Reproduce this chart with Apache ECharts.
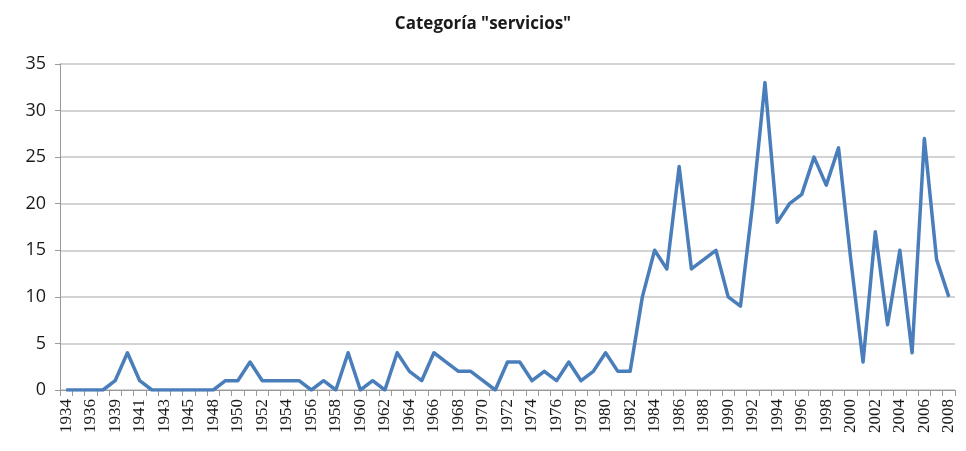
<!DOCTYPE html>
<html>
<head>
<meta charset="utf-8">
<script src="https://cdn.jsdelivr.net/npm/echarts@6/dist/echarts.min.js"></script>
<style>
  html, body { margin: 0; padding: 0; background: #fff; }
  #chart { width: 966px; height: 451px; }
</style>
</head>
<body>
<div id="chart"></div>
<script>
// Years with a recorded count (a few years have no entry)
const years = [
  '1934','1935','1936','1938','1939','1940','1941','1942','1943','1944','1945','1947',
  '1948','1949','1950','1951','1952','1953','1954','1955','1956','1957','1958','1959',
  '1960','1961','1962','1963','1964','1965','1966','1967','1968','1969','1970','1971',
  '1972','1973','1974','1975','1976','1977','1978','1979','1980','1981','1982','1983',
  '1984','1985','1986','1987','1988','1989','1990','1991','1992','1993','1994','1995',
  '1996','1997','1998','1999','2000','2001','2002','2003','2004','2005','2006','2007','2008'
];

// Count for the "servicios" category per year
const servicios = [
  0, 0, 0, 0, 1, 4, 1, 0, 0, 0, 0, 0,
  0, 1, 1, 3, 1, 1, 1, 1, 0, 1, 0, 4,
  0, 1, 0, 4, 2, 1, 4, 3, 2, 2, 1, 0,
  3, 3, 1, 2, 1, 3, 1, 2, 4, 2, 2, 10,
  15, 13, 24, 13, 14, 15, 10, 9, 20, 33, 18, 20,
  21, 25, 22, 26, 14, 3, 17, 7, 15, 4, 27, 14, 10
];

const yMin = 0, yMax = 35, yStep = 5;

const chart = echarts.init(document.getElementById('chart'), null, { renderer: 'canvas' });
chart.setOption({
  animation: false,
  backgroundColor: '#ffffff',
  title: {
    text: 'Categoría "servicios"',
    left: 'center',
    top: 11,
    textStyle: {
      fontFamily: 'Open Sans, Liberation Sans, sans-serif',
      fontWeight: 'bold',
      fontSize: 17,
      color: '#1a1a1a'
    }
  },
  grid: { left: 60, right: 11, top: 64, bottom: 61 },
  xAxis: {
    type: 'category',
    data: years,
    boundaryGap: true,
    axisLine: { lineStyle: { color: '#9a9a9a', width: 1 } },
    axisTick: { show: true, interval: 0, length: 6, lineStyle: { color: '#9a9a9a' } },
    axisLabel: {
      interval: 1,
      rotate: 90,
      margin: 9,
      fontFamily: 'Liberation Serif, serif',
      fontSize: 17,
      color: '#1a1a1a'
    },
    splitLine: { show: false }
  },
  yAxis: {
    type: 'value',
    min: yMin,
    max: yMax,
    interval: yStep,
    axisLine: { show: true, lineStyle: { color: '#9a9a9a', width: 1 } },
    axisTick: { show: true, length: 5, lineStyle: { color: '#9a9a9a' } },
    axisLabel: {
      margin: 14,
      fontFamily: 'Open Sans, Liberation Sans, sans-serif',
      fontSize: 18,
      color: '#1a1a1a'
    },
    splitLine: { show: true, lineStyle: { color: '#c4c4c4', width: 1.5 } }
  },
  series: [{
    type: 'line',
    data: servicios,
    symbol: 'none',
    lineStyle: { color: '#4a7ebb', width: 3.5, join: 'round' },
    itemStyle: { color: '#4a7ebb' }
  }]
});
</script>
</body>
</html>
